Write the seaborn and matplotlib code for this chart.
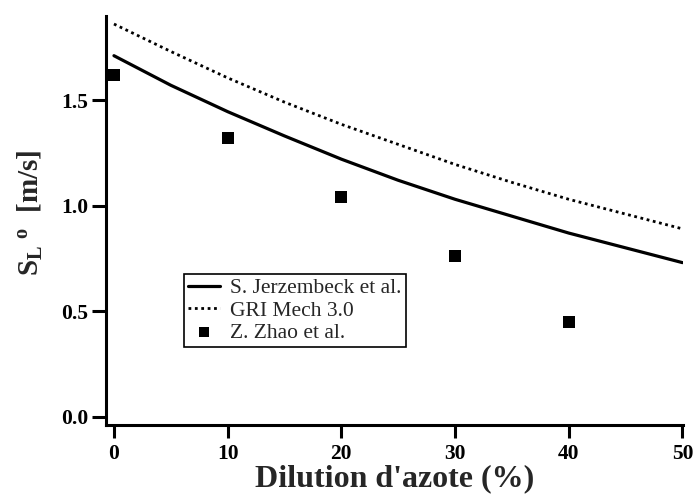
import matplotlib
matplotlib.use("Agg")
import matplotlib.pyplot as plt
import seaborn as sns
import pandas as pd

# Data
dilution_curve = [0, 5, 10, 15, 20, 25, 30, 35, 40, 45, 50]
jerzembeck = [1.71, 1.57, 1.445, 1.33, 1.22, 1.12, 1.03, 0.95, 0.87, 0.80, 0.73]
gri_mech = [1.86, 1.73, 1.605, 1.49, 1.385, 1.29, 1.195, 1.11, 1.03, 0.96, 0.89]
dilution_exp = [0, 10, 20, 30, 40]
zhao = [1.62, 1.32, 1.04, 0.76, 0.45]

x_ticks = [0, 10, 20, 30, 40, 50]
y_ticks = [0.0, 0.5, 1.0, 1.5]

sns.set_style("ticks")
plt.rcParams["font.family"] = ["Liberation Serif", "DejaVu Serif"]
plt.rcParams["mathtext.fontset"] = "custom"
plt.rcParams["mathtext.rm"] = "Liberation Serif"
plt.rcParams["mathtext.bf"] = "Liberation Serif:bold"
plt.rcParams["mathtext.it"] = "Liberation Serif:italic"

fig = plt.figure(figsize=(6.94, 4.98), dpi=100)
ax = fig.add_axes([106 / 694, 1 - 425 / 498, (683 - 106) / 694, (425 - 16) / 498])

df_curve = pd.DataFrame({"x": dilution_curve, "jer": jerzembeck, "gri": gri_mech})
df_exp = pd.DataFrame({"x": dilution_exp, "zhao": zhao})

sns.lineplot(data=df_curve, x="x", y="jer", ax=ax, color="black", lw=2.3,
             label="S. Jerzembeck et al.")
sns.lineplot(data=df_curve, x="x", y="gri", ax=ax, color="black", lw=2.0,
             linestyle=(0, (1, 1.3)), label="GRI Mech 3.0")
sns.scatterplot(data=df_exp, x="x", y="zhao", ax=ax, color="black", marker="s",
                s=85, linewidth=0, label="Z. Zhao et al.")

ax.set_xlim(-0.7, 50.05)
ax.set_ylim(-0.039, 1.898)
ax.set_xticks(x_ticks)
ax.set_yticks(y_ticks)
ax.set_xticklabels([str(t) for t in x_ticks])
ax.set_yticklabels([f"{t:.1f}" for t in y_ticks])

for s in ["top", "right"]:
    ax.spines[s].set_visible(False)
for s in ["left", "bottom"]:
    ax.spines[s].set_linewidth(2.2)
    ax.spines[s].set_color("black")

ax.tick_params(axis="y", direction="out", length=10, width=2.2, pad=3,
               labelsize=15.5, colors="black")
ax.tick_params(axis="x", direction="out", length=9, width=2.2, pad=5,
               labelsize=15.5, colors="black")
for lab in ax.get_xticklabels() + ax.get_yticklabels():
    lab.set_fontweight("bold")

ax.set_xlabel("Dilution d'azote (%)", fontsize=23, fontweight="bold", labelpad=0)
ax.set_ylabel(r"$\mathbf{S_{L}}\ {}^{\mathbf{o}}$  [m/s]", fontsize=21,
              fontweight="bold")
ax.yaxis.set_label_coords(-0.106, 0.518)

leg = ax.legend(loc="upper left", bbox_to_anchor=(0.135, 0.369), fontsize=15.5,
                frameon=True, fancybox=False, framealpha=1, edgecolor="black",
                handlelength=1.5, handletextpad=0.45, borderpad=0.2,
                labelspacing=0.1, borderaxespad=0, markerscale=0.8)
leg.get_frame().set_linewidth(1.2)

fig.savefig("out.png", dpi=100)
